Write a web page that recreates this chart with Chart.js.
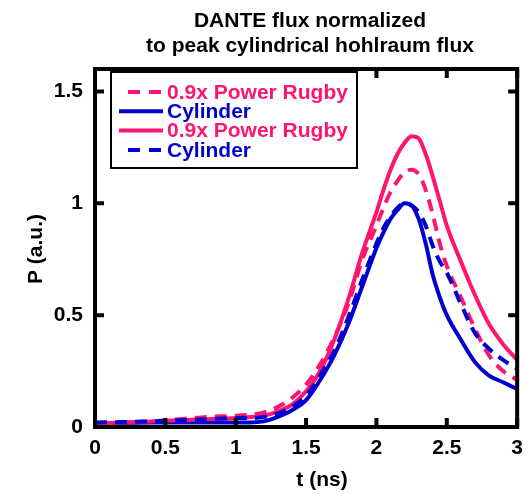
<!DOCTYPE html>
<html>
<head>
<meta charset="utf-8">
<script src="https://cdn.jsdelivr.net/npm/chart.js@4.4.1/dist/chart.umd.min.js"></script>
<style>
  html, body { margin: 0; padding: 0; background: #fff; }
  #wrap { width: 532px; height: 494px; }
</style>
</head>
<body>
<div id="wrap"><canvas id="fluxChart" width="532" height="494"></canvas></div>
<script>
// time axis (ns)
const time = [0, 0.2, 0.4, 0.6, 0.8, 1.0, 1.1, 1.2, 1.3, 1.4, 1.5, 1.6, 1.7, 1.8, 1.9, 2.0,
  2.05, 2.1, 2.15, 2.2, 2.25, 2.3, 2.35, 2.4, 2.45, 2.5, 2.6, 2.7, 2.8, 2.9, 3.0];

// normalized power, one list per trace
const rugbyDashed = [0.015, 0.02, 0.025, 0.035, 0.045, 0.05, 0.055, 0.065, 0.09, 0.13, 0.19, 0.28, 0.40, 0.55, 0.75, 0.90,
  0.98, 1.05, 1.10, 1.14, 1.15, 1.13, 1.06, 0.95, 0.82, 0.72, 0.58, 0.44, 0.32, 0.25, 0.21];
const cylinderSolid = [0.015, 0.018, 0.02, 0.02, 0.02, 0.02, 0.02, 0.025, 0.045, 0.075, 0.12, 0.21, 0.32, 0.46, 0.63, 0.80,
  0.87, 0.93, 0.97, 1.00, 0.99, 0.93, 0.82, 0.68, 0.58, 0.50, 0.39, 0.29, 0.23, 0.20, 0.17];
const rugbySolid = [0.015, 0.02, 0.025, 0.03, 0.035, 0.04, 0.045, 0.05, 0.07, 0.10, 0.16, 0.25, 0.39, 0.57, 0.78, 0.96,
  1.06, 1.15, 1.22, 1.27, 1.30, 1.29, 1.22, 1.12, 1.01, 0.90, 0.74, 0.59, 0.46, 0.37, 0.30];
const cylinderDashed = [0.02, 0.022, 0.025, 0.03, 0.035, 0.04, 0.04, 0.045, 0.06, 0.09, 0.14, 0.23, 0.34, 0.49, 0.66, 0.82,
  0.89, 0.94, 0.98, 1.00, 0.99, 0.96, 0.90, 0.81, 0.74, 0.69, 0.55, 0.42, 0.35, 0.30, 0.26];

const seriesLabels = ["0.9x Power Rugby", "Cylinder", "0.9x Power Rugby", "Cylinder"];
const xTicks = [0, 0.5, 1, 1.5, 2, 2.5, 3];
const yTicks = [0, 0.5, 1, 1.5];
const titleLines = ["DANTE flux normalized", "to peak cylindrical hohlraum flux"];
const xTitle = "t (ns)";
const yTitle = "P (a.u.)";

const pink = "#ff1470";
const blue = "#0000d0";
const boldFont = "bold 21px 'Liberation Sans', Arial, sans-serif";

function pts(ys) {
  return time.map((t, i) => ({ x: t, y: ys[i] }));
}

function makeSet(label, ys, color, dashed, order) {
  return {
    label: label,
    data: pts(ys),
    borderColor: color,
    backgroundColor: color,
    borderWidth: 4,
    borderDash: dashed ? [12, 8] : [],
    pointRadius: 0,
    tension: 0.3,
    cubicInterpolationMode: "monotone",
    fill: false,
    order: order
  };
}

// frame, inward ticks, legend box and titles
const decorations = {
  id: "decorations",
  afterDatasetsDraw(chart) {
    const ctx = chart.ctx;
    const a = chart.chartArea;
    const xs = chart.scales.x, ys = chart.scales.y;
    ctx.save();
    ctx.strokeStyle = "#000";
    ctx.lineWidth = 4;
    ctx.setLineDash([]);
    ctx.strokeRect(a.left, a.top, a.right - a.left, a.bottom - a.top);

    ctx.beginPath();
    xTicks.forEach(v => {
      let px = xs.getPixelForValue(v);
      ctx.moveTo(px, a.bottom); ctx.lineTo(px, a.bottom - 9);
      ctx.moveTo(px, a.top); ctx.lineTo(px, a.top + 9);
    });
    yTicks.forEach(v => {
      let py = ys.getPixelForValue(v);
      ctx.moveTo(a.left, py); ctx.lineTo(a.left + 9, py);
      ctx.moveTo(a.right, py); ctx.lineTo(a.right - 9, py);
    });
    ctx.stroke();

    // legend
    let bx = a.left + 16, by = a.top + 3;
    ctx.fillStyle = "#fff";
    ctx.fillRect(bx, by, 246, 96);
    ctx.lineWidth = 2;
    ctx.strokeRect(bx, by, 246, 96);
    ctx.font = boldFont;
    ctx.textBaseline = "middle";
    ctx.textAlign = "left";
    chart.data.datasets.forEach((ds, i) => {
      let cy = by + 20 + i * 19.3;
      ctx.strokeStyle = ds.borderColor;
      ctx.lineWidth = 4;
      ctx.beginPath();
      if (ds.borderDash.length) {
        ctx.setLineDash([12, 9]);
        ctx.moveTo(bx + 17, cy); ctx.lineTo(bx + 50, cy);
      } else {
        ctx.setLineDash([]);
        ctx.moveTo(bx + 8, cy); ctx.lineTo(bx + 52, cy);
      }
      ctx.stroke();
      ctx.setLineDash([]);
      ctx.fillStyle = ds.borderColor;
      ctx.fillText(ds.label, bx + 56, cy + 1);
    });
    ctx.restore();
  },
  afterDraw(chart) {
    const ctx = chart.ctx;
    ctx.save();
    ctx.fillStyle = "#000";
    ctx.font = boldFont;
    ctx.textAlign = "center";
    ctx.textBaseline = "alphabetic";
    ctx.fillText(titleLines[0], 310, 27);
    ctx.fillText(titleLines[1], 310, 52);
    ctx.fillText(xTitle, 322, 486);
    ctx.translate(42, 249);
    ctx.rotate(-Math.PI / 2);
    ctx.fillText(yTitle, 0, 0);
    ctx.restore();
  }
};

new Chart(document.getElementById("fluxChart"), {
  type: "line",
  data: {
    datasets: [
      makeSet(seriesLabels[0], rugbyDashed, pink, true, 4),
      makeSet(seriesLabels[1], cylinderSolid, blue, false, 3),
      makeSet(seriesLabels[2], rugbySolid, pink, false, 2),
      makeSet(seriesLabels[3], cylinderDashed, blue, true, 1)
    ]
  },
  options: {
    responsive: false,
    animation: false,
    layout: { padding: { top: 69, right: 11, left: 0, bottom: 0 } },
    plugins: {
      legend: { display: false },
      tooltip: { enabled: false },
      title: { display: false }
    },
    scales: {
      x: {
        type: "linear",
        min: 0,
        max: 3,
        grid: { display: false, drawTicks: false },
        border: { display: false },
        afterBuildTicks: s => { s.ticks = xTicks.map(v => ({ value: v })); },
        afterFit: s => { s.height = 67; },
        ticks: {
          color: "#000",
          font: { family: "'Liberation Sans', Arial, sans-serif", size: 21, weight: "bold" },
          padding: 9,
          maxRotation: 0,
          callback: v => String(v)
        }
      },
      y: {
        type: "linear",
        min: 0,
        max: 1.6,
        grid: { display: false, drawTicks: false },
        border: { display: false },
        afterBuildTicks: s => { s.ticks = yTicks.map(v => ({ value: v })); },
        afterFit: s => { s.width = 95; },
        ticks: {
          color: "#000",
          font: { family: "'Liberation Sans', Arial, sans-serif", size: 21, weight: "bold" },
          padding: 12,
          callback: v => String(v)
        }
      }
    }
  },
  plugins: [decorations]
});
</script>
</body>
</html>
